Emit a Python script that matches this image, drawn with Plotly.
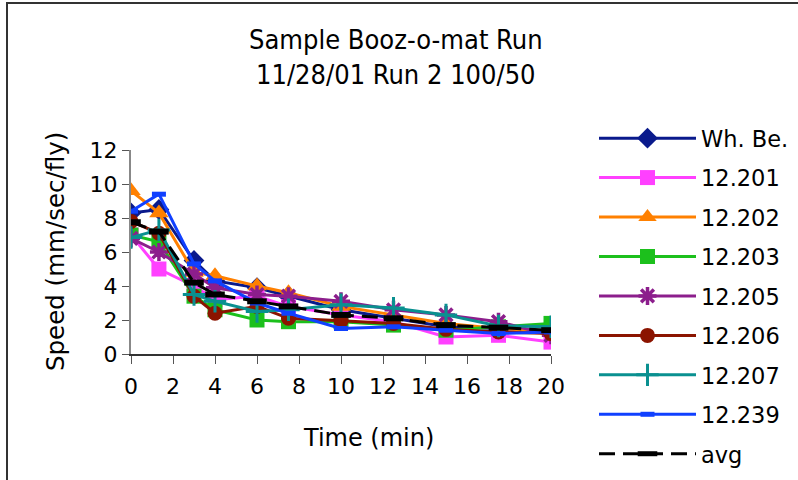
import plotly.graph_objects as go

time_min = [0, 1.33, 3, 4, 6, 7.5, 10, 12.5, 15, 17.5, 20]

wh_be = [8.3, 8.5, 5.5, 4.3, 3.9, 3.4, 2.6, 2.1, 1.6, 1.5, 1.3]
s12_201 = [7.0, 5.0, 4.0, 3.2, 3.4, 2.8, 2.3, 1.9, 1.0, 1.1, 0.7]
s12_202 = [9.6, 8.3, 4.8, 4.6, 4.0, 3.6, 2.8, 2.3, 1.8, 1.5, 1.3]
s12_203 = [7.0, 6.6, 3.4, 2.6, 2.0, 1.9, 1.9, 1.7, 1.4, 1.6, 1.8]
s12_205 = [6.8, 6.0, 4.7, 3.9, 3.5, 3.4, 3.1, 2.6, 2.3, 1.9, 1.1]
s12_206 = [7.8, 7.1, 3.4, 2.4, 2.8, 2.1, 1.95, 1.8, 1.45, 1.3, 1.2]
s12_207 = [6.85, 7.3, 3.5, 3.1, 2.5, 2.6, 2.9, 2.7, 2.3, 1.65, 1.6]
s12_239 = [8.4, 9.4, 5.3, 4.3, 3.0, 2.4, 1.5, 1.6, 1.4, 1.2, 1.3]
avg = [7.75, 7.2, 4.2, 3.5, 3.1, 2.8, 2.3, 2.1, 1.7, 1.55, 1.4]

x_ticks = [0, 2, 4, 6, 8, 10, 12, 14, 16, 18, 20]
y_ticks = [0, 2, 4, 6, 8, 10, 12]

series = [
    ("Wh. Be.", wh_be, "#0a1a8c", dict(symbol="diamond", size=16), "solid"),
    ("12.201", s12_201, "#ff40ff", dict(symbol="square", size=15), "solid"),
    ("12.202", s12_202, "#ff8000", dict(symbol="triangle-up", size=17), "solid"),
    ("12.203", s12_203, "#1cc01c", dict(symbol="square", size=15), "solid"),
    ("12.205", s12_205, "#8c1e8c", dict(symbol="asterisk", size=15, line=dict(width=3.5, color="#8c1e8c")), "solid"),
    ("12.206", s12_206, "#8b1400", dict(symbol="circle", size=15), "solid"),
    ("12.207", s12_207, "#0a9090", dict(symbol="cross-thin", size=16, line=dict(width=3, color="#0a9090")), "solid"),
    ("12.239", s12_239, "#1040ff", dict(symbol="line-ew", size=10, line=dict(width=5, color="#1040ff")), "solid"),
    ("avg", avg, "#000000", dict(symbol="line-ew", size=14, line=dict(width=6, color="#000000")), "16px,8px"),
]

fig = go.Figure()
for name, ys, col, mk, dash in series:
    mk = dict(mk)
    mk.setdefault("color", col)
    fig.add_trace(go.Scatter(
        x=time_min, y=ys, name=name, mode="lines+markers",
        line=dict(color=col, width=3, dash=dash),
        marker=mk, legendgroup=name,
    ))

W, H = 798, 480
L, R, T, B = 131, 551, 150, 354

fig.update_layout(
    width=W, height=H,
    margin=dict(l=L, r=W - R, t=T, b=H - B),
    paper_bgcolor="white", plot_bgcolor="white",
    font=dict(family="DejaVu Sans", size=23, color="black"),
    showlegend=True,
    legend=dict(x=594 / W, y=1 - 117 / H, xref="container", yref="container",
                xanchor="left", yanchor="top",
                font=dict(size=22.5), itemwidth=97, tracegroupgap=7.2,
                maxheight=470,
                bgcolor="rgba(0,0,0,0)"),
    xaxis=dict(range=[0, 20], tickvals=x_ticks, ticks="outside", ticklen=8,
               ticklabelstandoff=4,
               tickcolor="#555", showline=True, linecolor="#333", linewidth=2,
               showgrid=False, zeroline=False, tickfont=dict(size=22)),
    yaxis=dict(range=[0, 12], tickvals=y_ticks, ticks="outside", ticklen=7,
               tickcolor="#555", showline=True, linecolor="#888", linewidth=2,
               showgrid=False, zeroline=False, tickfont=dict(size=22)),
    annotations=[
        dict(text="Sample Booz-o-mat Run<br>11/28/01 Run 2 100/50", xref="paper", yref="paper",
             x=(396 - L) / (R - L), y=(B - 57) / (B - T), xanchor="center", yanchor="middle",
             showarrow=False, font=dict(size=27, family="DejaVu Sans Condensed")),
        dict(text="Speed (mm/sec/fly)", xref="paper", yref="paper", textangle=-90,
             x=(55 - L) / (R - L), y=(B - 252) / (B - T), xanchor="center", yanchor="middle",
             showarrow=False, font=dict(size=24.5)),
        dict(text="Time (min)", xref="paper", yref="paper",
             x=(368 - L) / (R - L), y=(B - 438) / (B - T), xanchor="center", yanchor="middle",
             showarrow=False, font=dict(size=24)),
    ],
    shapes=[dict(type="rect", xref="paper", yref="paper",
                 x0=(7 - L) / (R - L), x1=2.0, y0=-2.0, y1=(B - 3) / (B - T),
                 line=dict(color="#333", width=2), fillcolor="rgba(0,0,0,0)", layer="below")],
)

fig.write_html("out.html")
